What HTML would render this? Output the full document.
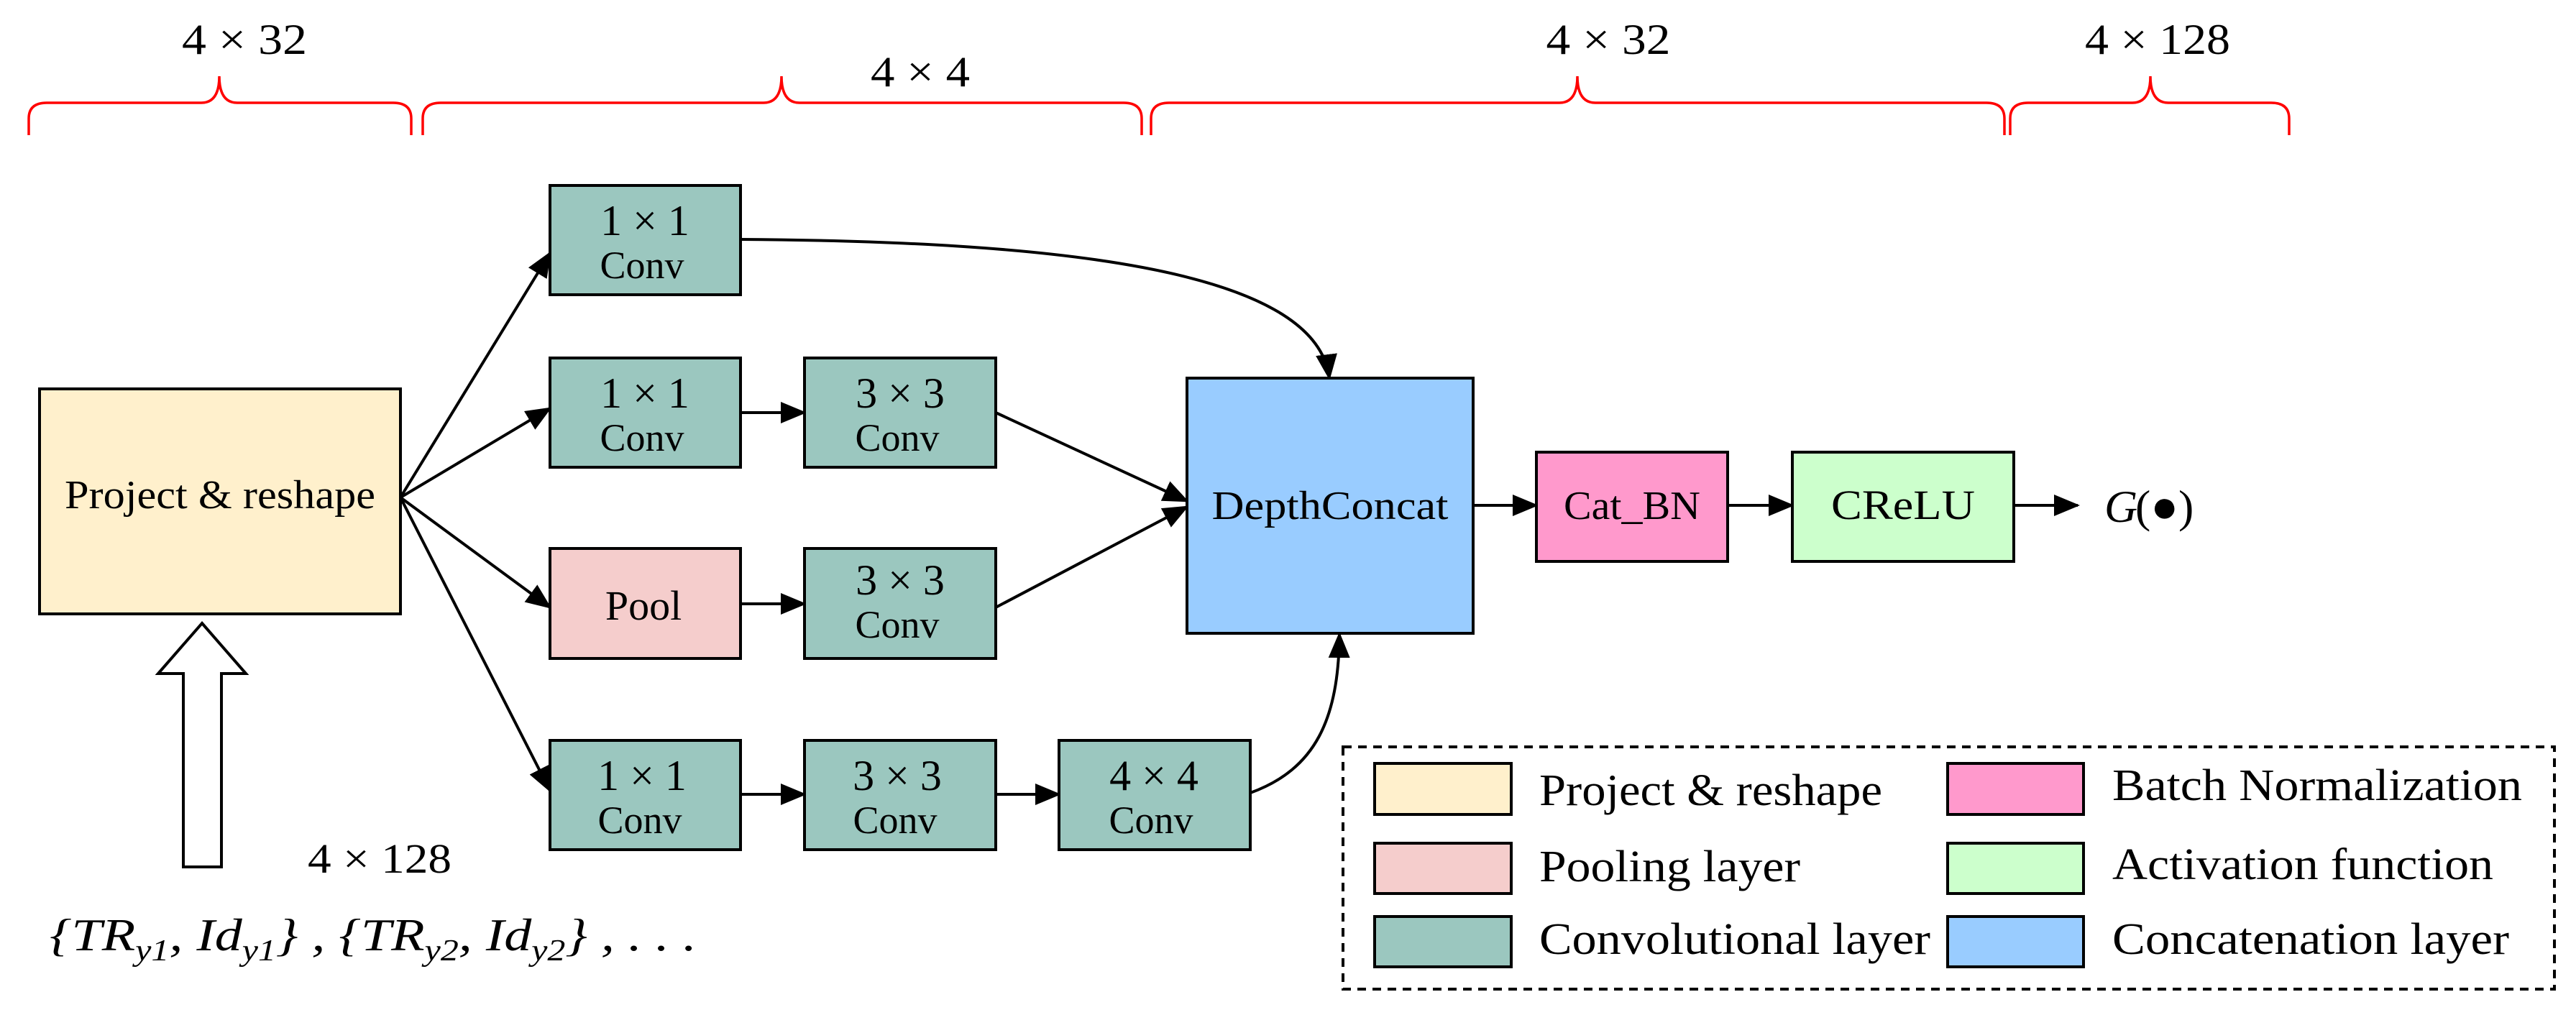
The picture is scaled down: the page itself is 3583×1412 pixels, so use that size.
<!DOCTYPE html>
<html><head><meta charset="utf-8"><style>
html,body{margin:0;padding:0;background:#fff}
svg{display:block}
text{font-family:"Liberation Serif",serif;fill:#000}
</style></head><body>
<svg width="3583" height="1412" viewBox="0 0 3583 1412" xmlns="http://www.w3.org/2000/svg">
<defs>
<marker id="a" viewBox="0 0 12 10" refX="11" refY="5" markerWidth="36" markerHeight="30" markerUnits="userSpaceOnUse" orient="auto"><path d="M0,0 L12,5 L0,10 z" fill="#000"/></marker>
</defs>
<!-- braces -->
<g fill="none" stroke="#f00" stroke-width="3.5">
<path d="M40,188 L40,165 Q40,143 65,143 L280,143 Q305,143 305,106 Q305,143 330,143 L547,143 Q572,143 572,165 L572,188"/>
<path d="M588,188 L588,165 Q588,143 613,143 L1062,143 Q1087,143 1087,106 Q1087,143 1112,143 L1563,143 Q1588,143 1588,165 L1588,188"/>
<path d="M1601,188 L1601,165 Q1601,143 1626,143 L2169,143 Q2194,143 2194,106 Q2194,143 2219,143 L2763,143 Q2788,143 2788,165 L2788,188"/>
<path d="M2796,188 L2796,165 Q2796,143 2821,143 L2966,143 Q2991,143 2991,106 Q2991,143 3016,143 L3159,143 Q3184,143 3184,165 L3184,188"/>
</g>
<g font-size="60" text-anchor="middle">
<text x="340" y="75" textLength="174" lengthAdjust="spacingAndGlyphs">4 × 32</text>
<text x="1280" y="120" textLength="138" lengthAdjust="spacingAndGlyphs">4 × 4</text>
<text x="2237" y="75" textLength="173" lengthAdjust="spacingAndGlyphs">4 × 32</text>
<text x="3001" y="75" textLength="202" lengthAdjust="spacingAndGlyphs">4 × 128</text>
</g>
<!-- connectors -->
<g stroke="#000" stroke-width="4" fill="none" marker-end="url(#a)">
<line x1="557" y1="692" x2="765" y2="352"/>
<line x1="557" y1="692" x2="765" y2="568"/>
<line x1="557" y1="692" x2="765" y2="845"/>
<line x1="557" y1="692" x2="765" y2="1100"/>
<line x1="1030" y1="574" x2="1119" y2="574"/>
<line x1="1030" y1="840" x2="1119" y2="840"/>
<line x1="1030" y1="1105" x2="1119" y2="1105"/>
<line x1="1385" y1="1105" x2="1473" y2="1105"/>
<line x1="1385" y1="574" x2="1651" y2="697"/>
<line x1="1385" y1="845" x2="1651" y2="705"/>
<line x1="2049" y1="703" x2="2137" y2="703"/>
<line x1="2403" y1="703" x2="2493" y2="703"/>
<line x1="2801" y1="703" x2="2890" y2="703"/>
<path d="M1030,333 C1450,336 1830,370 1849,526"/>
<path d="M1739,1103 C1830,1070 1862,1000 1863,882"/>
</g>
<!-- boxes -->
<g stroke="#000" stroke-width="4">
<rect x="55" y="541" width="502" height="313" fill="#fff0cc"/>
<rect x="765" y="258" width="265" height="152" fill="#9bc7bf"/>
<rect x="765" y="498" width="265" height="152" fill="#9bc7bf"/>
<rect x="1119" y="498" width="266" height="152" fill="#9bc7bf"/>
<rect x="765" y="763" width="265" height="153" fill="#f5cdcc"/>
<rect x="1119" y="763" width="266" height="153" fill="#9bc7bf"/>
<rect x="765" y="1030" width="265" height="152" fill="#9bc7bf"/>
<rect x="1119" y="1030" width="266" height="152" fill="#9bc7bf"/>
<rect x="1473" y="1030" width="266" height="152" fill="#9bc7bf"/>
<rect x="1651" y="526" width="398" height="355" fill="#99ccff"/>
<rect x="2137" y="629" width="266" height="152" fill="#ff99cc"/>
<rect x="2493" y="629" width="308" height="152" fill="#ccffcc"/>
</g>
<g font-size="60" text-anchor="middle">
<text x="306" y="707" font-size="56" textLength="432" lengthAdjust="spacingAndGlyphs">Project &amp; reshape</text>
<text x="897" y="327">1 × 1</text><text x="893" y="387" font-size="54">Conv</text>
<text x="897" y="567">1 × 1</text><text x="893" y="627" font-size="54">Conv</text>
<text x="1252" y="567">3 × 3</text><text x="1248" y="627" font-size="54">Conv</text>
<text x="895" y="862" font-size="58">Pool</text>
<text x="1252" y="827">3 × 3</text><text x="1248" y="887" font-size="54">Conv</text>
<text x="893" y="1099">1 × 1</text><text x="890" y="1159" font-size="54">Conv</text>
<text x="1248" y="1099">3 × 3</text><text x="1245" y="1159" font-size="54">Conv</text>
<text x="1605" y="1099">4 × 4</text><text x="1601" y="1159" font-size="54">Conv</text>
<text x="1850" y="722" font-size="56" textLength="329" lengthAdjust="spacingAndGlyphs">DepthConcat</text>
<text x="2270" y="722" font-size="56" textLength="190" lengthAdjust="spacingAndGlyphs">Cat_BN</text>
<text x="2647" y="722" font-size="58" textLength="200" lengthAdjust="spacingAndGlyphs">CReLU</text>
</g>
<text x="2927" y="726" font-size="64" font-style="italic">G</text>
<text x="2970" y="726" font-size="64">(●)</text>
<!-- big arrow -->
<path d="M281,867 L342,937 L308,937 L308,1206 L255,1206 L255,937 L220,937 Z" fill="#fff" stroke="#000" stroke-width="4"/>
<text x="528" y="1214" font-size="58" text-anchor="middle" textLength="200" lengthAdjust="spacingAndGlyphs">4 × 128</text>
<text x="69" y="1322" font-size="64" font-style="italic" textLength="900" lengthAdjust="spacingAndGlyphs">{TR<tspan font-size="42" dy="14">y1</tspan><tspan dy="-14">, Id</tspan><tspan font-size="42" dy="14">y1</tspan><tspan dy="-14">} , {TR</tspan><tspan font-size="42" dy="14">y2</tspan><tspan dy="-14">, Id</tspan><tspan font-size="42" dy="14">y2</tspan><tspan dy="-14">} , . . .</tspan></text>
<!-- legend -->
<rect x="1868" y="1039" width="1685" height="337" fill="none" stroke="#000" stroke-width="4" stroke-dasharray="12,9"/>
<g stroke="#000" stroke-width="4">
<rect x="1912" y="1062" width="190" height="71" fill="#fff0cc"/>
<rect x="1912" y="1173" width="190" height="70" fill="#f5cdcc"/>
<rect x="1912" y="1275" width="190" height="70" fill="#9bc7bf"/>
<rect x="2709" y="1062" width="189" height="71" fill="#ff99cc"/>
<rect x="2709" y="1173" width="189" height="70" fill="#ccffcc"/>
<rect x="2709" y="1275" width="189" height="70" fill="#99ccff"/>
</g>
<g font-size="62">
<text x="2141" y="1120" textLength="477" lengthAdjust="spacingAndGlyphs">Project &amp; reshape</text>
<text x="2141" y="1226" textLength="363" lengthAdjust="spacingAndGlyphs">Pooling layer</text>
<text x="2141" y="1327" textLength="544" lengthAdjust="spacingAndGlyphs">Convolutional layer</text>
<text x="2938" y="1113" textLength="570" lengthAdjust="spacingAndGlyphs">Batch Normalization</text>
<text x="2938" y="1223" textLength="530" lengthAdjust="spacingAndGlyphs">Activation function</text>
<text x="2938" y="1327" textLength="552" lengthAdjust="spacingAndGlyphs">Concatenation layer</text>
</g>
</svg>
</body></html>
